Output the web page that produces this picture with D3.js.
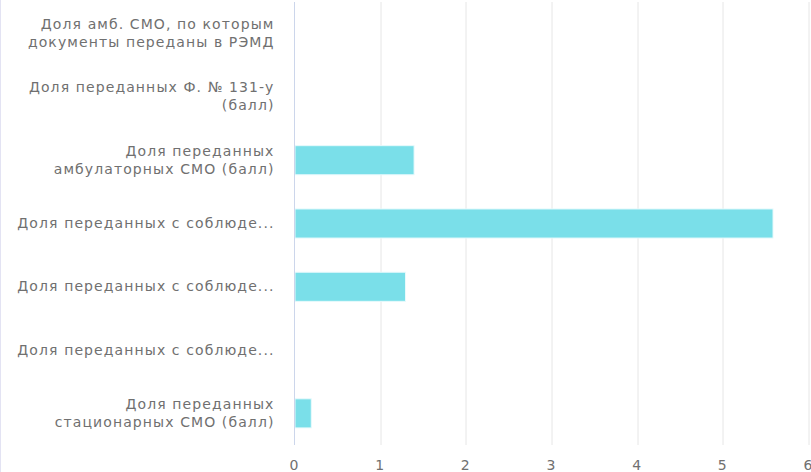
<!DOCTYPE html>
<html>
<head>
<meta charset="utf-8">
<script src="https://cdn.jsdelivr.net/npm/d3@7"></script>
<style>
  body { margin: 0; background: #fff; }
  svg { display: block; font-family: "DejaVu Sans", Verdana, sans-serif; }
  .tick-label { fill: #707070; font-size: 14px; letter-spacing: 1.1px; }
</style>
</head>
<body>
<svg id="chart"></svg>
<script>
// Category labels (already split into display lines)
const categories = [
    ["Доля амб. СМО, по которым", "документы переданы в РЭМД"],
    ["Доля переданных Ф. № 131-у", "(балл)"],
    ["Доля переданных", "амбулаторных СМО (балл)"],
    ["Доля переданных с соблюде..."],
    ["Доля переданных с соблюде..."],
    ["Доля переданных с соблюде..."],
    ["Доля переданных", "стационарных СМО (балл)"]
];
const values = [0, 0, 1.39, 5.58, 1.29, 0, 0.19];
const xTicks = [0, 1, 2, 3, 4, 5, 6];

const width = 811;
const height = 472;
const margin = { top: 2, right: 3, bottom: 27, left: 294.5 };

const svg = d3.select("#chart")
    .attr("width", width)
    .attr("height", height);

const innerWidth = width - margin.left - margin.right;
const innerHeight = height - margin.top - margin.bottom;

// left frame line
svg.append("line")
    .attr("x1", 0.5).attr("x2", 0.5)
    .attr("y1", 0).attr("y2", height)
    .attr("stroke", "#e3e3f3");

const g = svg.append("g")
    .attr("transform", `translate(${margin.left},${margin.top})`);

const xScale = d3.scaleLinear()
    .domain([0, 6])
    .range([0, 808.5 - margin.left]);

const yScale = d3.scaleBand()
    .domain(d3.range(categories.length))
    .range([0, innerHeight])
    .paddingInner(0.54)
    .paddingOuter(0.27);

// Grid lines
g.append("g")
    .selectAll("line")
    .data(xTicks.filter(d => d > 0))
    .join("line")
    .attr("x1", d => Math.round(xScale(d)) + 0.5)
    .attr("x2", d => Math.round(xScale(d)) + 0.5)
    .attr("y1", 0)
    .attr("y2", innerHeight)
    .attr("stroke", "#e6e6e6");

// Bars
g.append("g")
    .selectAll("rect")
    .data(values)
    .join("rect")
    .attr("x", 0.5)
    .attr("y", (d, i) => yScale(i))
    .attr("width", d => d > 0 ? xScale(d) : 0)
    .attr("height", yScale.bandwidth())
    .attr("fill", "#7adfe9")
    .attr("stroke", d => d > 0 ? "#e8fafc" : "none")
    .attr("stroke-width", 1);

// Axis line
g.append("line")
    .attr("x1", 0).attr("x2", 0)
    .attr("y1", 0).attr("y2", innerHeight)
    .attr("stroke", "#ccd6eb");

// Category labels
const lineHeight = 18;
const labels = g.append("g")
    .selectAll("text")
    .data(categories)
    .join("text")
    .attr("class", "tick-label")
    .attr("text-anchor", "end")
    .attr("x", -20);

labels.each(function(lines, i) {
    const cy = yScale(i) + yScale.bandwidth() / 2;
    const first = cy - (lines.length - 1) * lineHeight / 2 + 4.5;
    d3.select(this).selectAll("tspan")
        .data(lines)
        .join("tspan")
        .attr("x", -20)
        .attr("y", (d, j) => first + j * lineHeight)
        .text(d => d);
});

// X tick labels
g.append("g")
    .selectAll("text")
    .data(xTicks)
    .join("text")
    .attr("class", "tick-label")
    .attr("text-anchor", "middle")
    .attr("x", d => xScale(d))
    .attr("y", innerHeight + 25)
    .text(d => d);
</script>
</body>
</html>
